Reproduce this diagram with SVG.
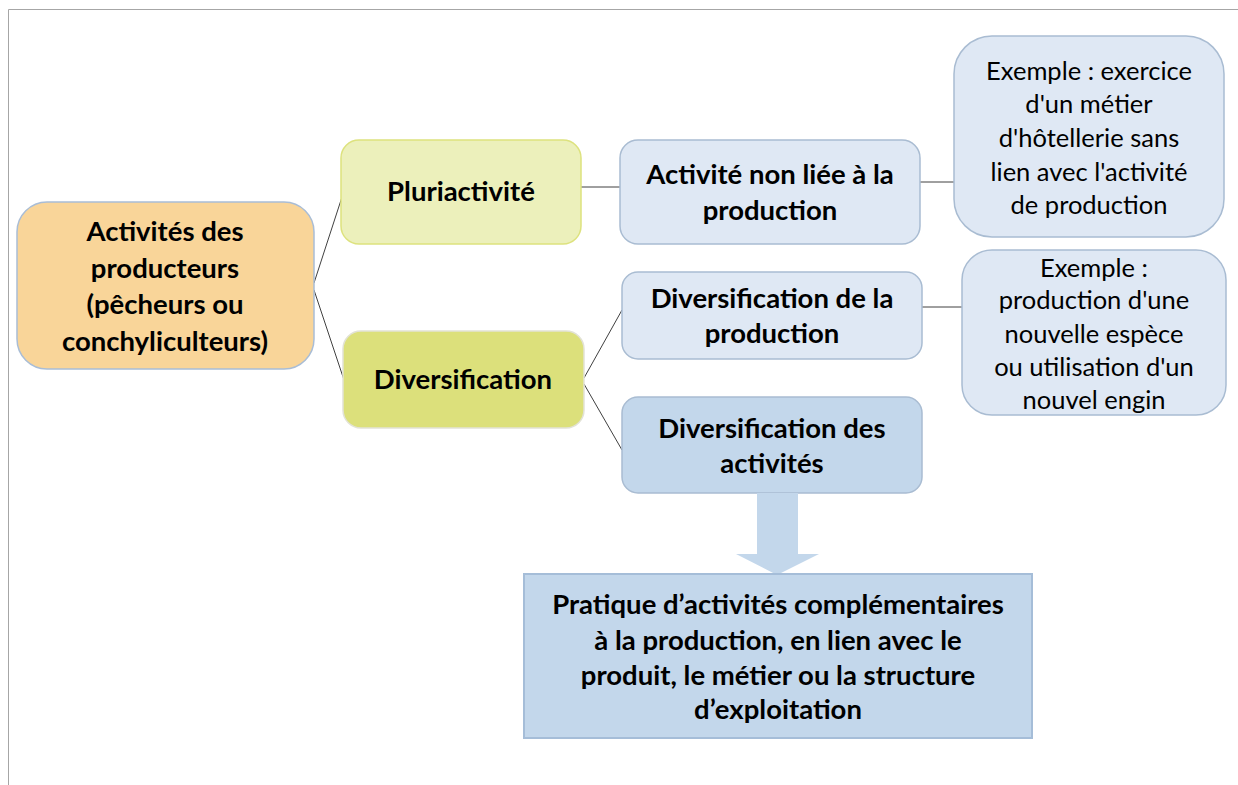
<svg xmlns="http://www.w3.org/2000/svg" width="1238" height="785" viewBox="0 0 1238 785">
<style>
.t{font-family:Lato,"Liberation Sans",sans-serif;font-size:27.5px;fill:#000;text-anchor:middle}
.b{font-weight:bold}
.n{font-weight:normal;font-size:25.5px}
.conn line{stroke:#404040;stroke-width:1}
</style>
<rect x="0" y="0" width="1238" height="785" fill="#fff"/>
<path d="M8.5 785 V9.5 H1238" fill="none" stroke="#a6a6a6" stroke-width="1"/>
<g class="conn">
<line x1="314" y1="283" x2="342" y2="197"/>
<line x1="314" y1="290" x2="344" y2="380"/>
<line x1="581" y1="187" x2="620" y2="187"/>
<line x1="920" y1="182" x2="956" y2="182"/>
<line x1="584" y1="378" x2="622" y2="310"/>
<line x1="584" y1="384" x2="622" y2="450"/>
<line x1="922" y1="307" x2="962" y2="307"/>
</g>
<g id="root">
<rect x="17" y="202" width="297" height="167" rx="30" fill="#f9d599" stroke="#a9bdd6" stroke-width="1.5"/>
<text class="t b" x="165" y="241">Activités des</text>
<text class="t b" x="165" y="278">producteurs</text>
<text class="t b" x="165" y="314">(pêcheurs ou</text>
<text class="t b" x="165" y="351">conchyliculteurs)</text>
</g>
<g id="pluri">
<rect x="341" y="140" width="240" height="104" rx="18" fill="#ecf0bb" stroke="#dde27e" stroke-width="1.5"/>
<text class="t b" x="461" y="201">Pluriactivité</text>
</g>
<g id="divers">
<rect x="343" y="331" width="241" height="97" rx="18" fill="#dce07b" stroke="#e2e2d6" stroke-width="1.5"/>
<text class="t b" x="463" y="389">Diversification</text>
</g>
<g id="nonliee">
<rect x="620" y="140" width="300" height="104" rx="18" fill="#dfe8f4" stroke="#a9bcd2" stroke-width="1.5"/>
<text class="t b" x="770" y="184">Activité non liée à la</text>
<text class="t b" x="770" y="220">production</text>
</g>
<g id="ex1">
<rect x="954" y="36" width="270" height="201" rx="38" fill="#dfe8f4" stroke="#a9bcd2" stroke-width="1.5"/>
<text class="t n" x="1089" y="80">Exemple : exercice</text>
<text class="t n" x="1089" y="113">d'un métier</text>
<text class="t n" x="1089" y="147">d'hôtellerie sans</text>
<text class="t n" x="1089" y="181">lien avec l'activité</text>
<text class="t n" x="1089" y="214">de production</text>
</g>
<g id="divprod">
<rect x="622" y="272" width="300" height="87" rx="16" fill="#dfe8f4" stroke="#a9bcd2" stroke-width="1.5"/>
<text class="t b" x="772" y="308">Diversification de la</text>
<text class="t b" x="772" y="343">production</text>
</g>
<g id="ex2">
<rect x="962" y="250" width="264" height="165" rx="30" fill="#dfe8f4" stroke="#a9bcd2" stroke-width="1.5"/>
<text class="t n" x="1094" y="277">Exemple :</text>
<text class="t n" x="1094" y="309">production d'une</text>
<text class="t n" x="1094" y="343">nouvelle espèce</text>
<text class="t n" x="1094" y="376">ou utilisation d'un</text>
<text class="t n" x="1094" y="409">nouvel engin</text>
</g>
<g id="divact">
<rect x="622" y="397" width="300" height="96" rx="16" fill="#c3d7eb" stroke="#a9bcd2" stroke-width="1.5"/>
<text class="t b" x="772" y="438">Diversification des</text>
<text class="t b" x="772" y="473">activités</text>
</g>
<g id="arrow">
<path d="M757 493 H798 V554 H819 L777 575 L736 554 H757 Z" fill="#c3d7eb"/>
</g>
<g id="pratique">
<rect x="524" y="574" width="508" height="164" fill="#c3d7eb" stroke="#a5bdd8" stroke-width="2"/>
<text class="t b" x="778" y="614">Pratique d’activités complémentaires</text>
<text class="t b" x="778" y="650">à la production, en lien avec le</text>
<text class="t b" x="778" y="685">produit, le métier ou la structure</text>
<text class="t b" x="778" y="719">d’exploitation</text>
</g>
</svg>
